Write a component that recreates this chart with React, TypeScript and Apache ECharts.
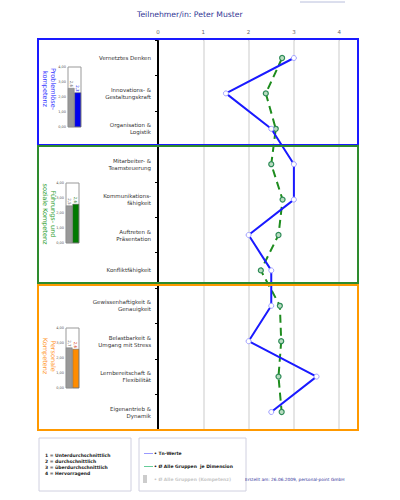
import React, { useEffect, useRef } from "react";
import * as echarts from "echarts";

const categories = [
  "Vernetztes Denken",
  "Innovations- &\nGestaltungskraft",
  "Organisation &\nLogistik",
  "Mitarbeiter- &\nTeamsteuerung",
  "Kommunikations-\nfähigkeit",
  "Auftreten &\nPräsentation",
  "Konfliktfähigkeit",
  "Gewissenhaftigkeit &\nGenauigkeit",
  "Belastbarkeit &\nUmgang mit Stress",
  "Lernbereitschaft &\nFlexibilität",
  "Eigenantrieb &\nDynamik",
];
const tnValues = [3.0, 1.5, 2.5, 3.0, 3.0, 2.0, 2.5, 2.5, 2.0, 3.5, 2.5];
const groupValues = [2.74, 2.38, 2.6, 2.5, 2.75, 2.66, 2.27, 2.69, 2.72, 2.66, 2.73];

const competenceNames = ["Problemlöse-\nkompetenz", "Führungs- und\nsoziale Kompetenz", "Personale\nKompetenz"];
const competenceGroupAvg = [2.6, 2.5, 2.7];
const competenceTnAvg = [2.3, 2.6, 2.6];
const competenceColors = ["#0000ee", "#007a00", "#ff8c00"];
const competenceLabelColors = ["#0000ee", "#1a7a1a", "#d03000"];
const competenceTextColors = ["#3333ff", "#2fa02f", "#ff9933"];
const scaleLegend = [
  "1 = Unterdurchschnittlich",
  "2 = durchschnittlich",
  "3 = überdurchschnittlich",
  "4 = Hervorragend",
];

const FONT = "DejaVu Sans";

export default function App() {
  const ref = useRef<HTMLDivElement>(null);
  useEffect(() => {
    if (!ref.current) return;
    const chart = echarts.init(ref.current, undefined, { renderer: "svg" });

    const boxes = [
      { y: 39, h: 106, color: "#1a1aff" },
      { y: 146, h: 137, color: "#2e8b2e" },
      { y: 285, h: 145, color: "#ff9900" },
    ];
    const miniTops = [67, 183, 328];
    const sectionCenters = [89, 214, 356];

    const fmt = (v: number) => v.toFixed(1).replace(".", ",");

    const grids: any[] = [
      { left: 158, top: 40.3, width: 181.2, height: 389.4 },
    ];
    const xAxes: any[] = [
      {
        type: "value",
        gridIndex: 0,
        position: "top",
        min: 0,
        max: 4,
        interval: 1,
        axisLine: { show: false },
        axisTick: { show: true, length: 2, lineStyle: { color: "#999" } },
        axisLabel: { fontSize: 5.5, color: "#666", margin: 5, fontFamily: FONT },
        splitLine: { lineStyle: { color: "#dcdcdc", width: 1.5 } },
      },
    ];
    const yAxes: any[] = [
      {
        type: "category",
        gridIndex: 0,
        inverse: true,
        data: categories,
        axisLine: { lineStyle: { color: "#000", width: 2 } },
        axisTick: { show: true, length: 3, lineStyle: { color: "#000" } },
        axisLabel: {
          fontSize: 5.5,
          color: "#333",
          margin: 7,
          lineHeight: 7,
          fontFamily: FONT,
        },
        splitLine: { show: false },
      },
    ];
    const series: any[] = [
      {
        name: "Tn-Werte",
        type: "line",
        xAxisIndex: 0,
        yAxisIndex: 0,
        data: tnValues,
        z: 4,
        lineStyle: { color: "#1a1aff", width: 2 },
        symbol: "circle",
        symbolSize: 5,
        itemStyle: { color: "#ffffff", borderColor: "#a0a0ff", borderWidth: 1 },
      },
      {
        name: "Ø Alle Gruppen je Dimension",
        type: "line",
        xAxisIndex: 0,
        yAxisIndex: 0,
        data: groupValues,
        z: 3,
        lineStyle: { color: "#1e8c1e", width: 2, type: [8, 5] },
        symbol: "circle",
        symbolSize: 5,
        itemStyle: { color: "#b8dcc0", borderColor: "#2e8b57", borderWidth: 1.2 },
      },
    ];

    competenceNames.forEach((_, i) => {
      const gi = i + 1;
      grids.push({
        left: i === 0 ? 68 : 66,
        top: miniTops[i],
        width: 13,
        height: 60,
        show: true,
        borderColor: "#999",
        borderWidth: 1,
        backgroundColor: "#fff",
      });
      xAxes.push({
        type: "category",
        gridIndex: gi,
        data: ["Gruppen", "Tn"],
        show: false,
      });
      yAxes.push({
        type: "value",
        gridIndex: gi,
        min: 0,
        max: 4,
        interval: 1,
        axisLine: { show: false },
        axisTick: { show: false },
        splitLine: { show: false },
        axisLabel: {
          fontSize: 3.5,
          color: "#555",
          margin: 2,
          fontFamily: FONT,
          formatter: (v: number) => v.toFixed(2).replace(".", ","),
        },
      });
      series.push({
        type: "bar",
        xAxisIndex: gi,
        yAxisIndex: gi,
        barCategoryGap: "0%",
        data: [
          {
            value: competenceGroupAvg[i],
            itemStyle: { color: "#999999", borderColor: "#777", borderWidth: 0.5 },
            label: { color: "#666" },
          },
          {
            value: competenceTnAvg[i],
            itemStyle: { color: competenceColors[i], borderColor: "#555", borderWidth: 0.5 },
            label: { color: competenceLabelColors[i] },
          },
        ],
        label: {
          show: true,
          position: "top",
          rotate: -90,
          align: "right",
          verticalAlign: "middle",
          distance: 1,
          fontSize: 4,
          fontFamily: FONT,
          formatter: (p: any) => fmt(p.value),
        },
      });
    });

    const graphics: any[] = [
      {
        type: "line",
        shape: { x1: 300, y1: 2, x2: 345, y2: 2 },
        style: { stroke: "#b8bedc", lineWidth: 1 },
      },
      {
        type: "text",
        left: 137,
        top: 10,
        style: {
          text: "Teilnehmer/in: Peter Muster",
          fill: "#2e3192",
          fontSize: 7.7,
          fontFamily: FONT,
        },
      },
    ];
    boxes.forEach((b) => {
      graphics.push({
        type: "rect",
        z: 10,
        shape: { x: 38, y: b.y, width: 320, height: b.h },
        style: { fill: "none", stroke: b.color, lineWidth: 2 },
      });
    });
    competenceNames.forEach((name, i) => {
      graphics.push({
        type: "text",
        x: 49,
        y: sectionCenters[i],
        rotation: -Math.PI / 2,
        style: {
          text: name,
          fill: competenceTextColors[i],
          fontSize: 6.5,
          lineHeight: 8,
          align: "center",
          verticalAlign: "middle",
          fontFamily: FONT,
        },
      });
    });
    // legend box 1
    graphics.push({
      type: "rect",
      shape: { x: 39, y: 438, width: 92, height: 53 },
      style: { fill: "#fff", stroke: "#d0d0e0", lineWidth: 1 },
    });
    graphics.push({
      type: "text",
      x: 45,
      y: 452,
      style: {
        text: scaleLegend.join("\n"),
        fill: "#222",
        fontSize: 4.5,
        fontWeight: "bold",
        lineHeight: 6,
        fontFamily: FONT,
      },
    });
    // legend box 2
    graphics.push({
      type: "rect",
      shape: { x: 139, y: 438, width: 107, height: 53 },
      style: { fill: "#fff", stroke: "#d0d0e0", lineWidth: 1 },
    });
    graphics.push({
      type: "line",
      shape: { x1: 144, y1: 453.5, x2: 153, y2: 453.5 },
      style: { stroke: "#9999ff", lineWidth: 1 },
    });
    graphics.push({
      type: "line",
      shape: { x1: 144, y1: 466.5, x2: 153, y2: 466.5 },
      style: { stroke: "#66cc99", lineWidth: 1 },
    });
    graphics.push({
      type: "rect",
      shape: { x: 143, y: 475, width: 4, height: 8 },
      style: { fill: "#cccccc" },
    });
    const leg2 = [
      { t: "• Tn-Werte", y: 453, c: "#222" },
      { t: "• Ø Alle Gruppen  je Dimension", y: 466, c: "#222" },
      { t: "• Ø Alle Gruppen (Kompetenz)", y: 479, c: "#c8c8c8" },
    ];
    leg2.forEach((l) => {
      graphics.push({
        type: "text",
        x: 154,
        y: l.y,
        style: {
          text: l.t,
          fill: l.c,
          fontSize: 4.5,
          fontWeight: "bold",
          verticalAlign: "middle",
          fontFamily: FONT,
        },
      });
    });
    graphics.push({
      type: "text",
      x: 245,
      y: 479,
      style: {
        text: "Erstellt am: 26.06.2009, personal-point GmbH",
        fill: "#333399",
        fontSize: 4.3,
        verticalAlign: "middle",
        fontFamily: FONT,
      },
    });

    chart.setOption({
      animation: false,
      backgroundColor: "#ffffff",
      grid: grids,
      xAxis: xAxes,
      yAxis: yAxes,
      series,
      graphic: graphics,
    });
    return () => chart.dispose();
  }, []);
  return (
    <div
      ref={ref}
      style={{ position: "fixed", left: 0, top: 0, width: 400, height: 500 }}
    />
  );
}
